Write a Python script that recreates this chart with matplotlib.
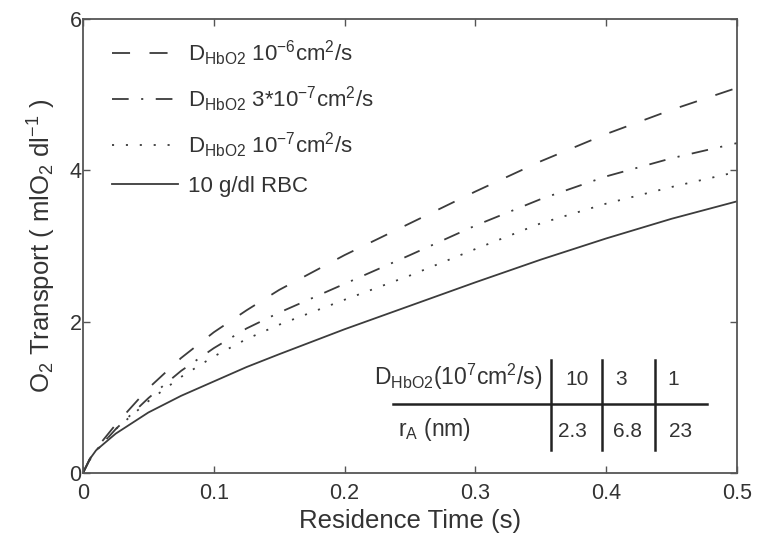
import matplotlib
matplotlib.use("Agg")
import matplotlib.pyplot as plt

plt.rcParams['font.family'] = ['Liberation Sans', 'DejaVu Sans']
plt.rcParams['mathtext.fontset'] = 'custom'
plt.rcParams['mathtext.rm'] = 'Liberation Sans'
plt.rcParams['mathtext.it'] = 'Liberation Sans'
plt.rcParams['lines.scale_dashes'] = False

# Data
time_s = [0, 0.005, 0.01, 0.025, 0.05, 0.075, 0.1, 0.125, 0.15, 0.2, 0.25, 0.3, 0.35, 0.4, 0.45, 0.5]
d_1e6 = [0, 0.18, 0.32, 0.64, 1.12, 1.52, 1.86, 2.15, 2.42, 2.88, 3.3, 3.72, 4.12, 4.48, 4.8, 5.09]
d_3e7 = [0, 0.17, 0.29, 0.58, 0.99, 1.35, 1.65, 1.91, 2.12, 2.5, 2.88, 3.27, 3.62, 3.92, 4.16, 4.36]
d_1e7 = [0, 0.17, 0.3, 0.58, 0.95, 1.27, 1.54, 1.77, 1.96, 2.29, 2.61, 2.96, 3.3, 3.56, 3.78, 3.98]
rbc = [0, 0.18, 0.3, 0.52, 0.8, 1.02, 1.21, 1.4, 1.57, 1.9, 2.21, 2.52, 2.82, 3.1, 3.36, 3.59]

labels = [r'D$_{\mathrm{HbO2}}$ 10$^{\mathrm{-6}}$cm$^{\mathrm{2}}$/s',
          r'D$_{\mathrm{HbO2}}$ 3*10$^{\mathrm{-7}}$cm$^{\mathrm{2}}$/s',
          r'D$_{\mathrm{HbO2}}$ 10$^{\mathrm{-7}}$cm$^{\mathrm{2}}$/s',
          '10 g/dl RBC']

xticks = [0, 0.1, 0.2, 0.3, 0.4, 0.5]
xticklabels = ['0', '0.1', '0.2', '0.3', '0.4', '0.5']
yticks = [0, 2, 4, 6]
yticklabels = ['0', '2', '4', '6']

table_header = r'D$_{\mathrm{HbO2}}$(10$^{\mathrm{7}}$cm$^{\mathrm{2}}$/s)'
table_row_label = r'r$_{\mathrm{A}}$ (nm)'
table_D = ['10', '3', '1']
table_r = ['2.3', '6.8', '23']

line_col = '#3c3c3c'
text_col = '#333333'
axis_col = '#555555'

fig = plt.figure(figsize=(7.57, 5.40), dpi=100)
ax = fig.add_axes([83/757, 1-473/540, 654/757, 454/540])

ax.plot(time_s, d_1e6, color=line_col, lw=1.3, dashes=(13, 14), label=labels[0])
ax.plot(time_s, d_3e7, color=line_col, lw=1.3, dashes=(12, 9, 1.5, 9), label=labels[1])
ax.plot(time_s, d_1e7, color=line_col, lw=1.3, dashes=(1.5, 8.5), label=labels[2])
ax.plot(time_s, rbc, color=line_col, lw=1.3, label=labels[3])

ax.set_xlim(0, 0.5)
ax.set_ylim(0, 6)
ax.set_xticks(xticks)
ax.set_xticklabels(xticklabels)
ax.set_yticks(yticks)
ax.set_yticklabels(yticklabels)
ax.tick_params(direction='in', length=5, width=1.0, colors=axis_col,
               labelcolor=text_col, labelsize=15.5, top=True, right=True)
ax.tick_params(axis='x', pad=7)
ax.tick_params(axis='y', pad=1)
for s in ax.spines.values():
    s.set_color(axis_col)
    s.set_linewidth(1.3)

ax.set_xlabel('Residence Time (s)', fontsize=18.5, color=text_col, labelpad=4)
ax.set_ylabel(r'O$_{\mathrm{2}}$ Transport ( mlO$_{\mathrm{2}}$ dl$^{\mathrm{-1}}$ )',
              fontsize=18.5, color=text_col, labelpad=8)

leg = ax.legend(loc='upper left', frameon=False, fontsize=16, handlelength=3.0,
                handletextpad=0.45, labelspacing=0.74, borderaxespad=0.0,
                bbox_to_anchor=(0.03, 0.977))
for t in leg.get_texts():
    t.set_color(text_col)

# Inset table
tr = ax.transAxes
ax.plot([0.474, 0.954], [0.152, 0.152], color='#222222', lw=1.8, transform=tr, clip_on=False)
for xv in [0.716, 0.794, 0.875]:
    ax.plot([xv, xv], [0.249, 0.051], color='#222222', lw=1.8, transform=tr, clip_on=False)
ax.text(0.703, 0.194, table_header, transform=tr, ha='right', va='baseline',
        fontsize=16.5, color=text_col)
for xv, s in zip([0.755, 0.823, 0.902], table_D):
    ax.text(xv, 0.194, s, transform=tr, ha='center', va='baseline', fontsize=15, color=text_col)
ax.text(0.482, 0.082, table_row_label, transform=tr, ha='left', va='baseline',
        fontsize=16.5, color=text_col)
for xv, s in zip([0.749, 0.833, 0.913], table_r):
    ax.text(xv, 0.079, s, transform=tr, ha='center', va='baseline', fontsize=15, color=text_col)

fig.savefig('out.png', dpi=100)
